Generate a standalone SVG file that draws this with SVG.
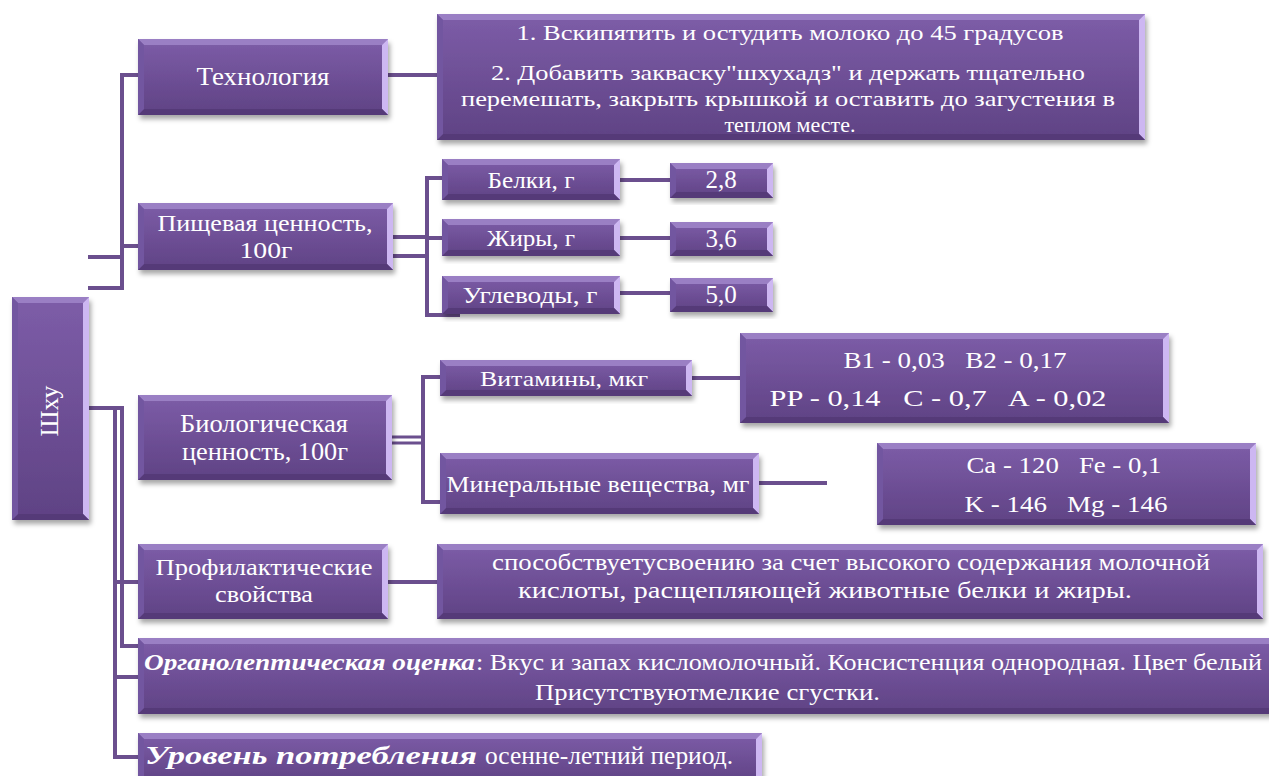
<svg xmlns="http://www.w3.org/2000/svg" width="1269" height="776" viewBox="0 0 1269 776">
<style>
.box{fill:url(#g);filter:url(#sh)}
.bt{fill:#9a7fc4}
.br{fill:#cdb7f2}
.bb{fill:#553a78}
.bl{fill:#7256a0}
.t{fill:#fff;font-family:"Liberation Serif","Times New Roman",serif;text-anchor:middle}
.s{text-anchor:start}
.bi{font-weight:bold;font-style:italic}
.c{stroke:#6b4f8e;stroke-width:4;fill:none}
.c2{stroke:#6b4f8e;stroke-width:3;fill:none}
</style>
<defs>
<linearGradient id="g" x1="0" y1="0" x2="0" y2="1">
<stop offset="0" stop-color="#7d5da8"/>
<stop offset="1" stop-color="#5f4284"/>
</linearGradient>
<filter id="sh" x="-10%" y="-10%" width="120%" height="130%">
<feDropShadow dx="2" dy="4" stdDeviation="2.5" flood-color="#000" flood-opacity="0.35"/>
</filter>
</defs>
<rect width="1269" height="776" fill="#fff"/>
<g id="connectors">
<path class="c" d="M122 74V290M120 75H138M120 246H138M88 257H122M88 288H124"/>
<path class="c" d="M388 75H437"/>
<path class="c" d="M393 237H427M393 256H427M427 176V317M425 178H442M427 238H442M425 315H460"/>
<path class="c" d="M620 180H670M620 238H670M620 293H670"/>
<path class="c" d="M89 408H124M122 406V648M115 410V759M113 582H138M120 646H138M113 677H138M113 757H138"/>
<path class="c2" d="M392 437H423M392 443H423"/>
<path class="c" d="M423 375V504M421 377H440M421 502H440"/>
<path class="c" d="M692 378H740M759 483H827M388 582H437"/>
</g>
<g id="n-shxu">
<rect class="box" x="12" y="297" width="77" height="223"/>
<path class="bt" d="M12 297h77l-6 6h-65z"/><path class="br" d="M89 297v223l-6 -6v-211z"/><path class="bb" d="M12 520h77l-6 -6h-65z"/><path class="bl" d="M12 297v223l6 -6v-211z"/>
<text class="t" font-size="26" transform="translate(58,411) rotate(-90)" textLength="51" lengthAdjust="spacingAndGlyphs">Шху</text>
</g>
<g id="n-tech">
<rect class="box" x="138" y="39" width="250" height="76"/>
<path class="bt" d="M138 39h250l-6 6h-238z"/><path class="br" d="M388 39v76l-6 -6v-64z"/><path class="bb" d="M138 115h250l-6 -6h-238z"/><path class="bl" d="M138 39v76l6 -6v-64z"/>
<text class="t" font-size="26" x="263" y="85" textLength="133" lengthAdjust="spacingAndGlyphs">Технология</text>
</g>
<g id="n-techtext">
<rect class="box" x="437" y="14" width="708" height="126"/>
<path class="bt" d="M437 14h708l-6 6h-696z"/><path class="br" d="M1145 14v126l-6 -6v-114z"/><path class="bb" d="M437 140h708l-6 -6h-696z"/><path class="bl" d="M437 14v126l6 -6v-114z"/>
<text class="t" font-size="22" x="790" y="40" textLength="547" lengthAdjust="spacingAndGlyphs">1. Вскипятить и остудить молоко до 45 градусов</text>
<text class="t" font-size="22" x="788" y="80" textLength="594" lengthAdjust="spacingAndGlyphs">2. Добавить закваску"шхухадз" и держать тщательно</text>
<text class="t" font-size="22" x="788" y="106" textLength="654" lengthAdjust="spacingAndGlyphs">перемешать, закрыть крышкой и оставить до загустения в</text>
<text class="t" font-size="22" x="790" y="132">теплом месте.</text>
</g>
<g id="n-pishch">
<rect class="box" x="138" y="203" width="255" height="67"/>
<path class="bt" d="M138 203h255l-6 6h-243z"/><path class="br" d="M393 203v67l-6 -6v-55z"/><path class="bb" d="M138 270h255l-6 -6h-243z"/><path class="bl" d="M138 203v67l6 -6v-55z"/>
<text class="t" font-size="24" x="265" y="231" textLength="215" lengthAdjust="spacingAndGlyphs">Пищевая ценность,</text>
<text class="t" font-size="24" x="266" y="258" textLength="53" lengthAdjust="spacingAndGlyphs">100г</text>
</g>
<g id="n-belki">
<rect class="box" x="442" y="159" width="178" height="41"/>
<path class="bt" d="M442 159h178l-6 6h-166z"/><path class="br" d="M620 159v41l-6 -6v-29z"/><path class="bb" d="M442 200h178l-6 -6h-166z"/><path class="bl" d="M442 159v41l6 -6v-29z"/>
<text class="t" font-size="24" x="531" y="188" textLength="87" lengthAdjust="spacingAndGlyphs">Белки, г</text>
</g>
<g id="n-v28">
<rect class="box" x="670" y="163" width="103" height="35"/>
<path class="bt" d="M670 163h103l-6 6h-91z"/><path class="br" d="M773 163v35l-6 -6v-23z"/><path class="bb" d="M670 198h103l-6 -6h-91z"/><path class="bl" d="M670 163v35l6 -6v-23z"/>
<text class="t" font-size="25" x="721" y="188">2,8</text>
</g>
<g id="n-jiry">
<rect class="box" x="442" y="219" width="178" height="37"/>
<path class="bt" d="M442 219h178l-6 6h-166z"/><path class="br" d="M620 219v37l-6 -6v-25z"/><path class="bb" d="M442 256h178l-6 -6h-166z"/><path class="bl" d="M442 219v37l6 -6v-25z"/>
<text class="t" font-size="24" x="531" y="246" textLength="88" lengthAdjust="spacingAndGlyphs">Жиры, г</text>
</g>
<g id="n-v36">
<rect class="box" x="670" y="222" width="103" height="34"/>
<path class="bt" d="M670 222h103l-6 6h-91z"/><path class="br" d="M773 222v34l-6 -6v-22z"/><path class="bb" d="M670 256h103l-6 -6h-91z"/><path class="bl" d="M670 222v34l6 -6v-22z"/>
<text class="t" font-size="25" x="721" y="247">3,6</text>
</g>
<g id="n-ugl">
<rect class="box" x="442" y="276" width="178" height="38"/>
<path class="bt" d="M442 276h178l-6 6h-166z"/><path class="br" d="M620 276v38l-6 -6v-26z"/><path class="bb" d="M442 314h178l-6 -6h-166z"/><path class="bl" d="M442 276v38l6 -6v-26z"/>
<text class="t" font-size="24" x="530" y="303" textLength="135" lengthAdjust="spacingAndGlyphs">Углеводы, г</text>
</g>
<g id="n-v50">
<rect class="box" x="670" y="278" width="103" height="34"/>
<path class="bt" d="M670 278h103l-6 6h-91z"/><path class="br" d="M773 278v34l-6 -6v-22z"/><path class="bb" d="M670 312h103l-6 -6h-91z"/><path class="bl" d="M670 278v34l6 -6v-22z"/>
<text class="t" font-size="25" x="721" y="303">5,0</text>
</g>
<g id="n-bio">
<rect class="box" x="138" y="395" width="254" height="85"/>
<path class="bt" d="M138 395h254l-6 6h-242z"/><path class="br" d="M392 395v85l-6 -6v-73z"/><path class="bb" d="M138 480h254l-6 -6h-242z"/><path class="bl" d="M138 395v85l6 -6v-73z"/>
<text class="t" font-size="25" x="264" y="432" textLength="168" lengthAdjust="spacingAndGlyphs">Биологическая</text>
<text class="t" font-size="25" x="265" y="460" textLength="166" lengthAdjust="spacingAndGlyphs">ценность, 100г</text>
</g>
<g id="n-vit">
<rect class="box" x="440" y="360" width="252" height="36"/>
<path class="bt" d="M440 360h252l-6 6h-240z"/><path class="br" d="M692 360v36l-6 -6v-24z"/><path class="bb" d="M440 396h252l-6 -6h-240z"/><path class="bl" d="M440 360v36l6 -6v-24z"/>
<text class="t" font-size="22" x="564" y="386" textLength="168" lengthAdjust="spacingAndGlyphs">Витамины, мкг</text>
</g>
<g id="n-vitval">
<rect class="box" x="740" y="333" width="429" height="90"/>
<path class="bt" d="M740 333h429l-6 6h-417z"/><path class="br" d="M1169 333v90l-6 -6v-78z"/><path class="bb" d="M740 423h429l-6 -6h-417z"/><path class="bl" d="M740 333v90l6 -6v-78z"/>
<text class="t" font-size="24" x="955" y="368" textLength="223" lengthAdjust="spacingAndGlyphs">B1 - 0,03 &#160; B2 - 0,17</text>
<text class="t" font-size="24" x="938" y="406" textLength="337" lengthAdjust="spacingAndGlyphs">PP - 0,14 &#160; C - 0,7 &#160; A - 0,02</text>
</g>
<g id="n-min">
<rect class="box" x="440" y="453" width="319" height="61"/>
<path class="bt" d="M440 453h319l-6 6h-307z"/><path class="br" d="M759 453v61l-6 -6v-49z"/><path class="bb" d="M440 514h319l-6 -6h-307z"/><path class="bl" d="M440 453v61l6 -6v-49z"/>
<text class="t" font-size="24" x="598" y="492" textLength="303" lengthAdjust="spacingAndGlyphs">Минеральные вещества, мг</text>
</g>
<g id="n-minval">
<rect class="box" x="877" y="443" width="379" height="82"/>
<path class="bt" d="M877 443h379l-6 6h-367z"/><path class="br" d="M1256 443v82l-6 -6v-70z"/><path class="bb" d="M877 525h379l-6 -6h-367z"/><path class="bl" d="M877 443v82l6 -6v-70z"/>
<text class="t" font-size="24" x="1064" y="473" textLength="195" lengthAdjust="spacingAndGlyphs">Ca - 120 &#160; Fe - 0,1</text>
<text class="t" font-size="24" x="1066" y="512" textLength="203" lengthAdjust="spacingAndGlyphs">K - 146 &#160; Mg - 146</text>
</g>
<g id="n-prof">
<rect class="box" x="138" y="544" width="250" height="75"/>
<path class="bt" d="M138 544h250l-6 6h-238z"/><path class="br" d="M388 544v75l-6 -6v-63z"/><path class="bb" d="M138 619h250l-6 -6h-238z"/><path class="bl" d="M138 544v75l6 -6v-63z"/>
<text class="t" font-size="24" x="264" y="575" textLength="217" lengthAdjust="spacingAndGlyphs">Профилактические</text>
<text class="t" font-size="24" x="264" y="602" textLength="98" lengthAdjust="spacingAndGlyphs">свойства</text>
</g>
<g id="n-proftext">
<rect class="box" x="437" y="544" width="826" height="75"/>
<path class="bt" d="M437 544h826l-6 6h-814z"/><path class="br" d="M1263 544v75l-6 -6v-63z"/><path class="bb" d="M437 619h826l-6 -6h-814z"/><path class="bl" d="M437 544v75l6 -6v-63z"/>
<text class="t" font-size="23" x="851" y="570" textLength="718" lengthAdjust="spacingAndGlyphs">способствуетусвоению за счет высокого содержания молочной</text>
<text class="t" font-size="23" x="825" y="598" textLength="614" lengthAdjust="spacingAndGlyphs">кислоты, расщепляющей животные белки и жиры.</text>
</g>
<g id="n-org">
<rect class="box" x="138" y="638" width="1140" height="76"/>
<path class="bt" d="M138 638h1140l-6 6h-1128z"/><path class="bb" d="M138 714h1140l-6 -6h-1128z"/><path class="bl" d="M138 638v76l6 -6v-64z"/>
<text class="t s bi" font-size="23" x="144" y="670" textLength="331" lengthAdjust="spacingAndGlyphs">Органолептическая оценка</text>
<text class="t s" font-size="23" x="476" y="670" textLength="786" lengthAdjust="spacingAndGlyphs">: Вкус и запах кисломолочный. Консистенция однородная. Цвет белый</text>
<text class="t s" font-size="23" x="535" y="700" textLength="345" lengthAdjust="spacingAndGlyphs">Присутствуютмелкие сгустки.</text>
</g>
<g id="n-level">
<rect class="box" x="138" y="733" width="624" height="50"/>
<path class="bt" d="M138 733h624l-6 6h-612z"/><path class="br" d="M762 733v50l-6 -6v-38z"/><path class="bl" d="M138 733v50l6 -6v-38z"/>
<text class="t s bi" font-size="26" x="145" y="764" textLength="332" lengthAdjust="spacingAndGlyphs">Уровень потребления</text>
<text class="t s" font-size="26" x="485" y="764" textLength="248" lengthAdjust="spacingAndGlyphs">осенне-летний период.</text>
</g>
</svg>
